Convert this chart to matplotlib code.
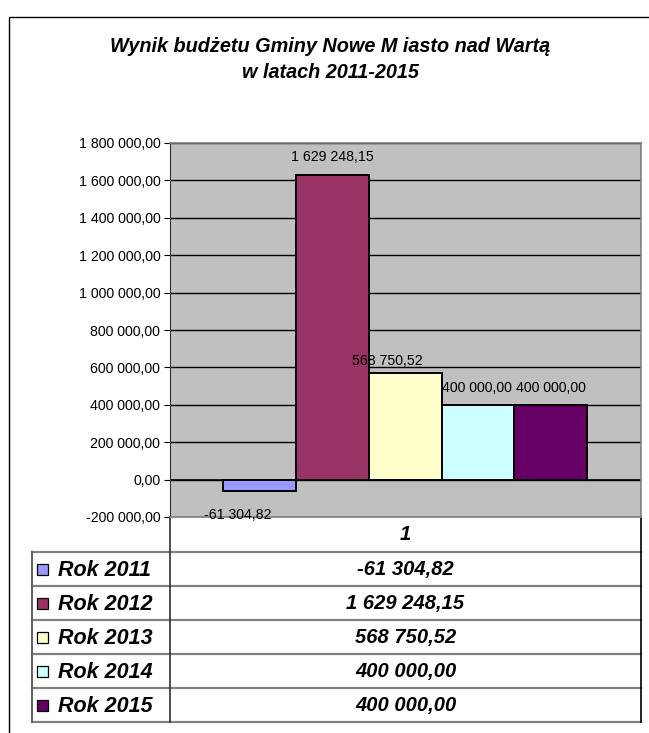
import matplotlib.pyplot as plt
from matplotlib.patches import Rectangle
from matplotlib.ticker import FuncFormatter, MultipleLocator

W, H = 649, 733

years = ["Rok 2011", "Rok 2012", "Rok 2013", "Rok 2014", "Rok 2015"]
values = [-61304.82, 1629248.15, 568750.52, 400000.00, 400000.00]
colors = ["#9999FF", "#993366", "#FFFFCC", "#CCFFFF", "#660066"]
category = "1"
title_lines = ["Wynik budżetu Gminy Nowe M iasto nad Wartą", "w latach 2011-2015"]

plt.rcParams["font.family"] = ["Liberation Sans", "DejaVu Sans"]


def pl(v):
    """Polish number format: space thousands, comma decimals."""
    s = f"{abs(v):,.2f}".replace(",", " ").replace(".", ",")
    return ("-" if v < 0 else "") + s


def fx(x):
    return x / W


def fy(y):
    return 1 - y / H


fig = plt.figure(figsize=(W / 100, H / 100), dpi=100)
fig.patch.set_facecolor("white")

# outer chart frame (runs off the right/bottom edge)
fig.patches.append(Rectangle((fx(9), fy(760)), fx(680), fy(17) - fy(760),
                             transform=fig.transFigure, fill=False,
                             ec="black", lw=1.0))

for i, line in enumerate(title_lines):
    fig.text(fx(330), fy(47 + 26 * i), line, ha="center", va="center",
             fontsize=14.3, fontweight="bold", fontstyle="italic")

# plot area
left, right, top, bottom = 170, 641, 143, 517
ax = fig.add_axes([fx(left), fy(bottom), fx(right - left), fy(top) - fy(bottom)])
ax.set_facecolor("#C0C0C0")
xs = list(range(len(values)))
ax.bar(xs, values, width=1.0, color=colors, edgecolor="black", lw=1.4, zorder=3)
ax.set_xlim(-1.23, 5.24)
ax.set_ylim(-200000, 1800000)
ax.yaxis.set_major_locator(MultipleLocator(200000))
ax.yaxis.set_major_formatter(FuncFormatter(lambda v, p: pl(v)))
ax.tick_params(axis="y", labelsize=10.2, length=4, width=0.8, pad=3)
ax.set_xticks([])
ax.grid(axis="y", color="black", lw=1.0, zorder=1)
ax.axhline(0, color="black", lw=1.2, zorder=2)
for side in ("top", "right", "bottom"):
    ax.spines[side].set_color("#808080")
    ax.spines[side].set_linewidth(1.2)
ax.spines["left"].set_color("#303030")

# data labels
dxs = [-22, 0, -18, -1, 0]
dys = [24, 18, 12, 17, 17]
for x, v, dx, dy in zip(xs, values, dxs, dys):
    ax.annotate(pl(v), (x, v), xytext=(dx, dy if v >= 0 else -dy),
                textcoords="offset pixels", ha="center", va="center",
                fontsize=10.2, zorder=4)

# data table below plot area
tab = fig.add_axes([0, 0, 1, 1], zorder=-1)
tab.set_xlim(0, W)
tab.set_ylim(H, 0)
tab.axis("off")
tleft, row_h, head_b = 32, 34, 552
rows_y = [head_b + row_h * i for i in range(len(years) + 1)]
for y in rows_y:
    tab.plot([tleft, right], [y, y], color="#808080", lw=1.6)
tab.plot([tleft, tleft], [head_b, rows_y[-1]], color="#606060", lw=1.4)
tab.plot([left, left], [bottom, rows_y[-1]], color="#303030", lw=1.2)
tab.plot([right, right], [bottom, rows_y[-1]], color="black", lw=1.2)
tab.text((left + right) / 2, (bottom + head_b) / 2, category, ha="center",
         va="center", fontsize=14.5, fontweight="bold", fontstyle="italic")
for i, (yr, v, c) in enumerate(zip(years, values, colors)):
    yc = rows_y[i] + row_h / 2
    tab.add_patch(Rectangle((37, yc - 5.5), 11, 11, fc=c, ec="black", lw=0.9))
    tab.text(58, yc + 1, yr, ha="left", va="center", fontsize=15.5,
             fontweight="bold", fontstyle="italic")
    tab.text((left + right) / 2, yc, pl(v), ha="center", va="center",
             fontsize=14.5, fontweight="bold", fontstyle="italic")

fig.savefig("out.png", dpi=100)
